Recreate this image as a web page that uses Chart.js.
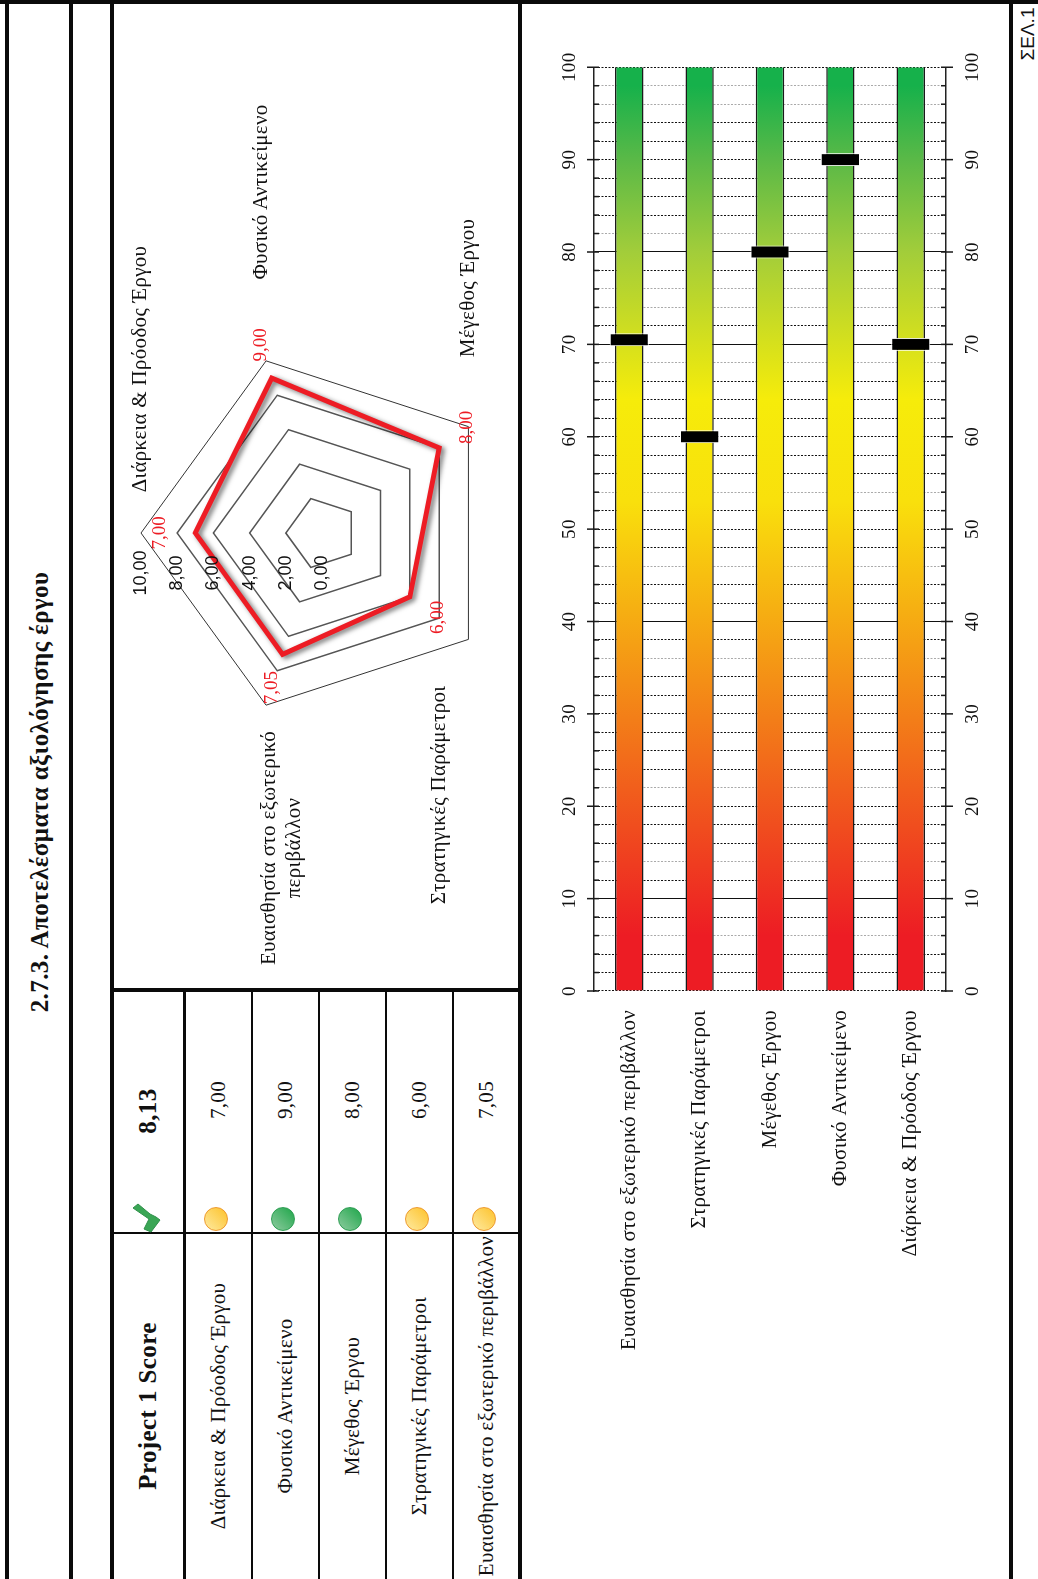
<!DOCTYPE html>
<html>
<head>
<meta charset="utf-8">
<title>Αποτελέσματα αξιολόγησης έργων</title>
<script src="https://cdn.jsdelivr.net/npm/chart.js@4"></script>
<style>
html, body { margin: 0; padding: 0; width: 1038px; height: 1579px; overflow: hidden; background: #fff; }
/* the sheet is laid out landscape and turned a quarter to the left */
#sheet { position: absolute; left: 0; top: 0; width: 1579px; height: 1038px; transform-origin: 0 0; transform: translateY(1579px) rotate(-90deg); font-family: "Liberation Serif", serif; color: #111; }
#sheet div, #sheet canvas { position: absolute; }
.line { background: #0a0a0a; }
.txt { transform: translate(-50%, -50%); white-space: nowrap; font-size: 21px; letter-spacing: 0.3px; line-height: 1; }
.dot { width: 24px; height: 24px; border-radius: 50%; box-sizing: border-box; transform: translate(-50%, -50%); }
#trend { position: absolute; left: 0; top: 0; }
</style>
</head>
<body>
<div id="sheet">
	<canvas id="radarCanvas" width="976" height="404" style="left:595px;top:114px"></canvas>
	<canvas id="barCanvas" width="1532" height="487" style="left:10px;top:522px"></canvas>
</div>
<svg id="trend" width="200" height="1300"><polygon points="133,1208 138,1204 150,1214 156,1217 160,1220 151,1232 144,1229 149,1219" fill="#3aa655" stroke="#2f8f4a"/></svg>
<script>
var sheet = document.getElementById("sheet");

// table / radar order
var categories = ["Διάρκεια & Πρόοδος Έργου", "Φυσικό Αντικείμενο", "Μέγεθος Έργου", "Στρατηγικές Παράμετροι", "Ευαισθησία στο εξωτερικό περιβάλλον"];
var scores = [7.00, 9.00, 8.00, 6.00, 7.05];
var projectScore = 8.13;
// gauge order
var gaugeCategories = ["Ευαισθησία στο εξωτερικό περιβάλλον", "Στρατηγικές Παράμετροι", "Μέγεθος Έργου", "Φυσικό Αντικείμενο", "Διάρκεια & Πρόοδος Έργου"];
var gaugeMarkers = [70.5, 60, 80, 90, 70];
var gaugeFull = [100, 100, 100, 100, 100];
var solidGrid = [10, 40, 70, 80];
var faintGrid = [6, 14, 22, 36, 46, 54, 68, 74, 76, 82, 96, 98];

function comma(v){
	return v.toFixed(2).replace(".", ",");
}

function addLine(x, y, w, h){
	var d = document.createElement("div");
	d.className = "line";
	d.style.cssText = "left:" + x + "px;top:" + y + "px;width:" + w + "px;height:" + h + "px";
	sheet.appendChild(d);
}

function addText(str, x, y, extra){
	var d = document.createElement("div");
	d.className = "txt";
	d.textContent = str;
	d.style.cssText = "left:" + x + "px;top:" + y + "px;" + (extra || "");
	sheet.appendChild(d);
}

function addDot(x, y, good){
	var d = document.createElement("div");
	d.className = "dot";
	d.style.cssText = "left:" + x + "px;top:" + y + "px;" + (good
		? "background:linear-gradient(315deg,#1fa64a,#8dcb9f);border:1px solid #2f9e54"
		: "background:linear-gradient(315deg,#fdc22b,#feeaa0);border:1.5px solid #ee9a2e");
	sheet.appendChild(d);
}

// frame
addLine(0, 5, 1575, 4);
addLine(1575, 0, 4, 1038);
addLine(0, 69, 1575, 4);
addLine(0, 110, 1575, 4);
addLine(0, 518, 1575, 4);
addLine(0, 1009, 1575, 4);

// score table
addLine(587, 114, 4, 404);
addLine(345, 114, 2, 404);
addLine(0, 183, 589, 3);
addLine(0, 251, 589, 2);
addLine(0, 318, 589, 2);
addLine(0, 385, 589, 2);
addLine(0, 452, 589, 2);

var boldText = "font-weight:bold;font-size:25px;letter-spacing:0.4px";
addText("2.7.3. Αποτελέσματα αξιολόγησης έργου", 787, 39, boldText);
addText("ΣΕΛ.1", 1545, 1027, "font-family:'Liberation Sans',sans-serif;font-size:19px;letter-spacing:0");
addText("Project 1 Score", 173, 147, boldText);
addText(comma(projectScore), 468, 147, boldText);

for(var i = 0; i < categories.length; i++){
	var rowY = 218 + i * 67;
	addText(categories[i], 173, rowY);
	addText(comma(scores[i]), 479, rowY);
	addDot(360, rowY - 2, scores[i] >= 8);
}

// radar captions
addText(categories[0], 1210, 139);
addText(categories[1], 1387, 260);
addText(categories[2], 1291, 467);
addText(categories[3], 784, 438);
addText("Ευαισθησία στο εξωτερικό", 731, 268);
addText("περιβάλλον", 731, 293);

// radar tick labels sit left of the spoke, value labels past each vertex
var radarLabels = {
	id: "radarLabels",
	beforeDatasetDraw: function(chart){
		var c = chart.ctx;
		c.save();
		c.shadowColor = "rgba(0,0,0,0.55)";
		c.shadowBlur = 5;
		c.shadowOffsetX = -2;
		c.shadowOffsetY = 3;
	},
	afterDatasetDraw: function(chart){
		chart.ctx.restore();
	},
	afterDraw: function(chart){
		var c = chart.ctx, r = chart.scales.r;
		c.save();
		c.textAlign = "center";
		c.textBaseline = "middle";
		c.fillStyle = "#111";
		c.font = "18px 'Liberation Sans', sans-serif";
		r.ticks.forEach(function(t){
			c.fillText(comma(t.value), r.xCenter - 40, r.yCenter - r.getDistanceFromCenterForValue(t.value));
		});
		c.fillStyle = "#ed1c24";
		c.font = "19px 'Liberation Serif', serif";
		scores.forEach(function(v, i){
			var p = r.getPointPosition(i, r.getDistanceFromCenterForValue(v) + 35);
			c.fillText(comma(v), p.x, p.y);
		});
		c.restore();
	}
};

new Chart(document.getElementById("radarCanvas"), {
	type: "radar",
	data: {
		labels: categories,
		datasets: [{
			data: scores,
			borderColor: "#ed1c24",
			borderWidth: 5,
			borderJoinStyle: "miter",
			pointRadius: 0,
			fill: false
		}]
	},
	options: {
		responsive: false,
		animation: false,
		devicePixelRatio: 1,
		layout: { padding: { left: 270, right: 344, top: 27, bottom: 15 } },
		plugins: { legend: { display: false }, tooltip: { enabled: false } },
		scales: {
			r: {
				min: 0,
				max: 10,
				ticks: { display: false, stepSize: 2 },
				pointLabels: { display: false },
				angleLines: { display: false },
				grid: {
					color: function(ctx){ return ctx.tick.value >= 10 ? "#333" : "#555"; },
					lineWidth: function(ctx){ return ctx.tick.value >= 10 ? 1 : 1.5; }
				}
			}
		}
	},
	plugins: [radarLabels]
});

// short inward ticks every 2, longer ones crossing the axis every 10
var gaugeTicks = {
	id: "gaugeTicks",
	beforeDraw: function(chart){
		chart.ctx.letterSpacing = "0.3px";
	},
	afterDraw: function(chart){
		var c = chart.ctx, s = chart.scales.x, a = chart.chartArea;
		c.save();
		c.strokeStyle = "#1a1a1a";
		c.lineWidth = 1.5;
		c.beginPath();
		s.ticks.forEach(function(t){
			var px = s.getPixelForValue(t.value), big = t.value % 10 === 0;
			c.moveTo(px, a.top - (big ? 7 : 0));
			c.lineTo(px, a.top + 5);
			c.moveTo(px, a.bottom - 5);
			c.lineTo(px, a.bottom + (big ? 7 : 0));
		});
		c.stroke();
		c.restore();
	}
};

function gaugeFill(ctx){
	var area = ctx.chart.chartArea;
	if(!area) return "#f6ec0a";
	var g = ctx.chart.ctx.createLinearGradient(area.left, 0, area.right, 0);
	g.addColorStop(0, "#ed1c24");
	g.addColorStop(0.06, "#ed1c24");
	g.addColorStop(0.53, "#f9e00c");
	g.addColorStop(0.64, "#f6ec0a");
	g.addColorStop(0.8, "#a2cd3a");
	g.addColorStop(0.9, "#5ab947");
	g.addColorStop(0.98, "#16b14b");
	g.addColorStop(1, "#16b14b");
	return g;
}

var valueAxis = {
	type: "linear",
	min: 0,
	max: 100,
	ticks: {
		stepSize: 2,
		autoSkip: false,
		maxRotation: 0,
		color: "#111",
		padding: 16,
		font: { family: "'Liberation Serif', serif", size: 19 },
		callback: function(v){ return v % 10 === 0 ? String(v) : ""; }
	},
	border: {
		color: "#222",
		width: 1.5,
		dash: function(ctx){ return ctx.tick && solidGrid.indexOf(ctx.tick.value) >= 0 ? [] : [2, 1.5]; }
	},
	grid: {
		drawTicks: false,
		color: function(ctx){ return ctx.tick && faintGrid.indexOf(ctx.tick.value) >= 0 ? "#aaa" : "#111"; },
		lineWidth: 1
	}
};

new Chart(document.getElementById("barCanvas"), {
	type: "bar",
	data: {
		labels: gaugeCategories,
		datasets: [
			{
				data: gaugeMarkers.map(function(v){ return [v - 0.7, v + 0.7]; }),
				backgroundColor: "#000",
				borderColor: "#fff",
				borderWidth: 1,
				borderSkipped: false,
				barPercentage: 0.555,
				categoryPercentage: 1,
				grouped: false,
				order: 1
			},
			{
				data: gaugeFull,
				backgroundColor: gaugeFill,
				borderColor: "#1a1a1a",
				borderWidth: { top: 1.5, bottom: 1.5, left: 0, right: 0 },
				borderSkipped: false,
				barPercentage: 0.403,
				categoryPercentage: 1,
				grouped: false,
				order: 2
			}
		]
	},
	options: {
		indexAxis: "y",
		responsive: false,
		animation: false,
		devicePixelRatio: 1,
		layout: { padding: { right: 17 } },
		plugins: { legend: { display: false }, tooltip: { enabled: false } },
		scales: {
			x: Object.assign({}, valueAxis, {
				position: "top",
				ticks: Object.assign({}, valueAxis.ticks, { padding: 13 }),
				afterFit: function(s){ s.height = 72; }
			}),
			x2: Object.assign({}, valueAxis, {
				position: "bottom",
				grid: { display: false, drawTicks: false },
				afterFit: function(s){ s.height = 63; }
			}),
			y: {
				position: "left",
				border: { display: false },
				grid: { display: false, drawTicks: false },
				ticks: {
					color: "#111",
					padding: 19,
					autoSkip: false,
					font: { family: "'Liberation Serif', serif", size: 21 }
				},
				afterFit: function(s){ s.width = 578; }
			}
		}
	},
	plugins: [gaugeTicks]
});
</script>
</body>
</html>
